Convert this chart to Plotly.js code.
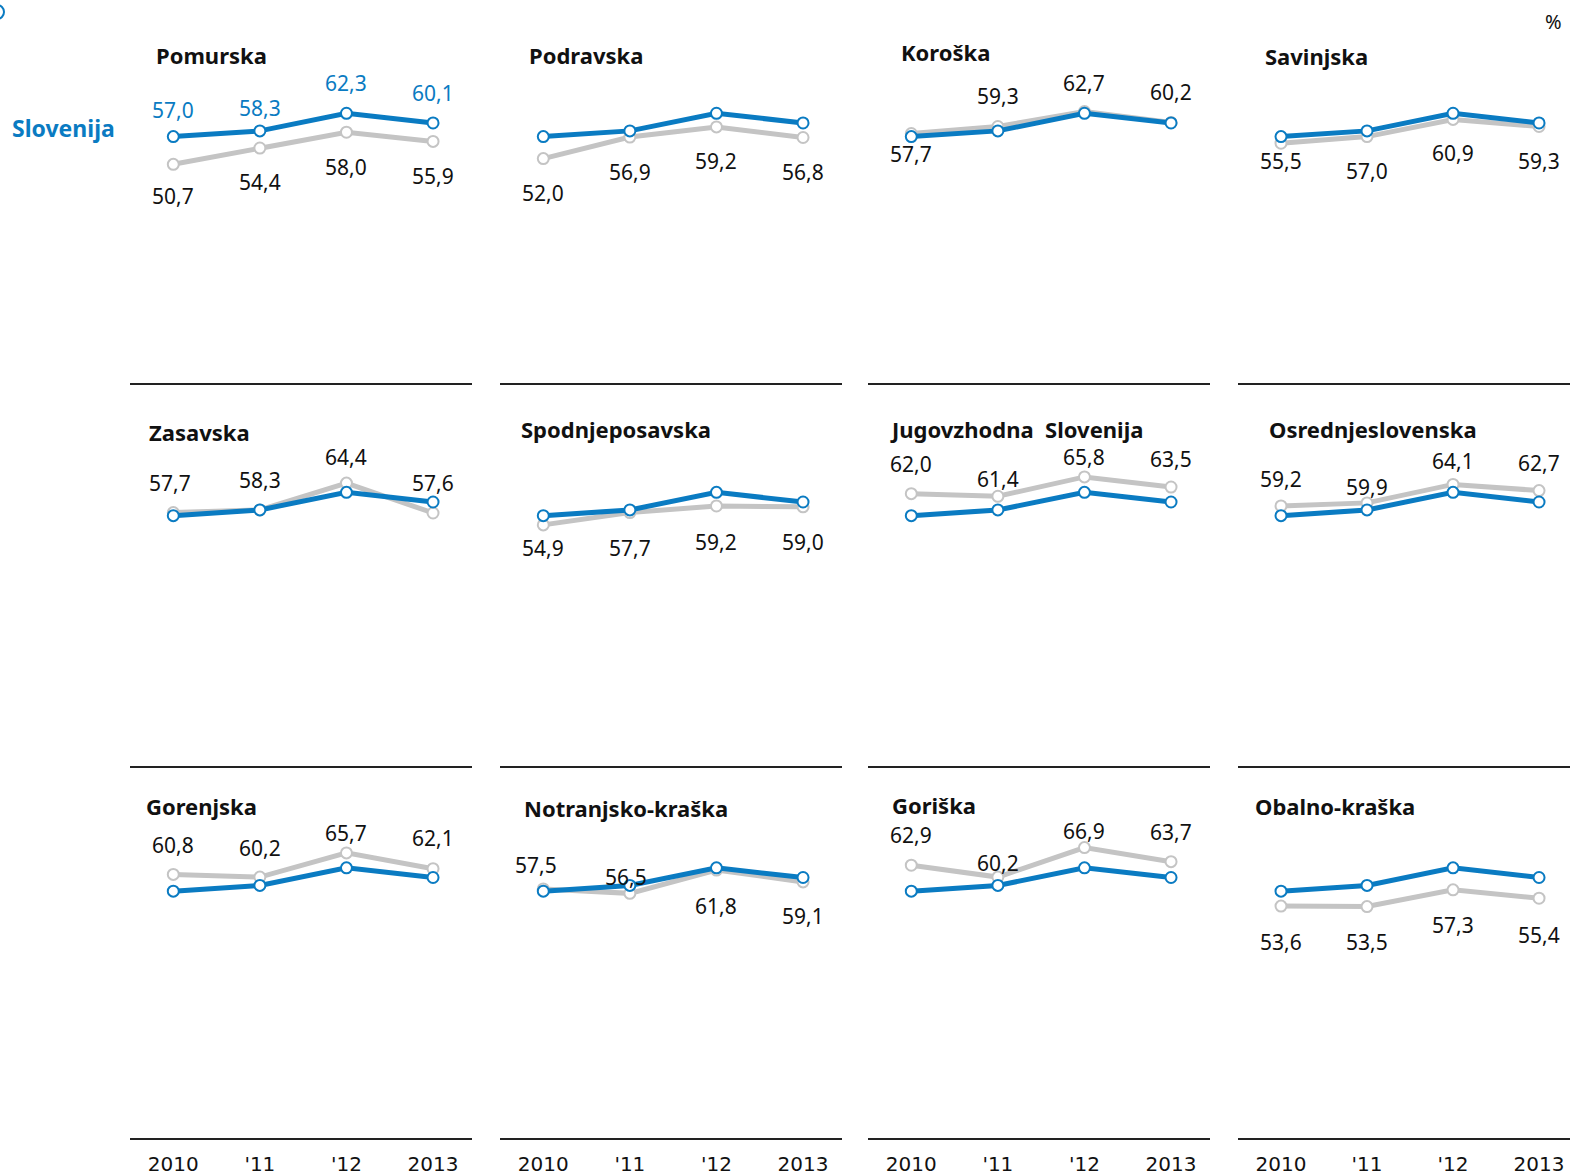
<!DOCTYPE html>
<html><head><meta charset="utf-8">
<script src="https://cdn.plot.ly/plotly-3.0.1.min.js"></script>
<style>html,body{margin:0;padding:0;background:#fff;overflow:hidden}#chart{width:1570px;height:1176px}</style>
</head><body><div id="chart"></div>
<script>
// ---------- DATA ----------
const years = ['2010', "'11", "'12", '2013'];
const slovenija = [57.0, 58.3, 62.3, 60.1];
const regionNames = ['Pomurska', 'Podravska', 'Koroška', 'Savinjska',
  'Zasavska', 'Spodnjeposavska', 'Jugovzhodna\u00a0 Slovenija', 'Osrednjeslovenska',
  'Gorenjska', 'Notranjsko-kraška', 'Goriška', 'Obalno-kraška'];
const pomurska = [50.7, 54.4, 58.0, 55.9];
const podravska = [52.0, 56.9, 59.2, 56.8];
const koroska = [57.7, 59.3, 62.7, 60.2];
const savinjska = [55.5, 57.0, 60.9, 59.3];
const zasavska = [57.7, 58.3, 64.4, 57.6];
const spodnjeposavska = [54.9, 57.7, 59.2, 59.0];
const jugovzhodna = [62.0, 61.4, 65.8, 63.5];
const osrednjeslovenska = [59.2, 59.9, 64.1, 62.7];
const gorenjska = [60.8, 60.2, 65.7, 62.1];
const notranjsko = [57.5, 56.5, 61.8, 59.1];
const goriska = [62.9, 60.2, 66.9, 63.7];
const obalno = [53.6, 53.5, 57.3, 55.4];
const regionValues = [pomurska, podravska, koroska, savinjska, zasavska, spodnjeposavska,
  jugovzhodna, osrednjeslovenska, gorenjska, notranjsko, goriska, obalno];

// ---------- LAYOUT / STYLE ----------
const W = 1570, H = 1176;
const px = x => x / W;
const py = y => 1 - y / H;
const BLUE = '#0a7bc2', GREY = '#c4c4c4';
const colPx = [[130, 472], [500, 842], [868, 1210], [1238, 1570]];
const colRange = [[-0.5, 3.45], [-0.5, 3.45], [-0.5, 3.45], [-0.5, 3.36]];
const rowBase = [383, 766, 1138];
const rowR0 = [1.0, 0.1, 0.9];
const K = 4.4, ROWH = 330;
// label vertical offsets in px (positive = below point)
const labelOff = [
  [32, 34, 35, 35], [34, 35, 34, 35], [20, -30, -29, -31], [18, 34, 34, 35],
  [-30, -30, -26, -30], [23, 35, 36, 35], [-30, -17, -20, -28], [-27, -16, -23, -28],
  [-29, -29, -20, -31], [-24, -16, 36, 34], [-30, -14, -17, -30], [36, 35, 35, 37]];
const labelXOff = [
  [0,0,0,0],[0,0,0,0],[0,0,0,0],[0,0,0,0],[-3,0,0,0],[0,0,0,0],
  [0,0,0,0],[0,0,0,0],[0,0,0,0],[-7,-4,0,0],[0,0,0,0],[0,0,0,0]];
const sloLabelOff = [-27, -23, -30, -30];
const titlePos = [[155, 55], [528, 55], [900, 52], [1264, 56], [148, 432], [520, 429],
  [889, 429], [1268, 429], [145, 806], [523, 808], [891, 805], [1254, 806]];

const fmt = v => v.toFixed(1).replace('.', ',');
const traces = [];
const layout = {
  width: W, height: H, margin: {l: 0, r: 0, t: 0, b: 0},
  paper_bgcolor: '#fff', plot_bgcolor: 'rgba(0,0,0,0)',
  showlegend: false, hovermode: false,
  font: {family: 'Noto Sans, sans-serif', color: '#111'},
  annotations: [], shapes: []
};
const xs = [0, 1, 2, 3];
regionValues.forEach((vals, i) => {
  const row = Math.floor(i / 4), col = i % 4, n = i + 1;
  const xa = 'x' + n, ya = 'y' + n;
  layout['xaxis' + n] = {
    domain: [px(colPx[col][0]), px(colPx[col][1])], anchor: ya,
    range: colRange[col], showgrid: false, zeroline: false,
    showline: true, linecolor: '#222', linewidth: 2, ticks: '',
    tickvals: xs, ticktext: years, showticklabels: row === 2, ticklabelstandoff: 7,
    tickfont: {family: 'DejaVu Sans', size: 20, color: '#111'}, fixedrange: true
  };
  const r0 = rowR0[row];
  layout['yaxis' + n] = {
    domain: [py(rowBase[row]), py(rowBase[row] - ROWH)], anchor: xa,
    range: [r0, r0 + ROWH / K], showgrid: false, zeroline: false,
    showline: false, showticklabels: false, ticks: '', fixedrange: true
  };
  traces.push({
    x: xs, y: vals, xaxis: xa, yaxis: ya, type: 'scatter', mode: 'lines+markers',
    line: {color: GREY, width: 5}, cliponaxis: false,
    marker: {size: 11, color: '#fff', line: {color: GREY, width: 2}}
  });
  traces.push({
    x: xs, y: slovenija, xaxis: xa, yaxis: ya, type: 'scatter', mode: 'lines+markers',
    line: {color: BLUE, width: 5}, cliponaxis: false,
    marker: {size: 11, color: '#fff', line: {color: BLUE, width: 2}}
  });
  vals.forEach((v, j) => {
    layout.annotations.push({
      xref: xa, yref: ya, x: j, y: v, text: fmt(v), showarrow: false, borderpad: 0,
      xanchor: 'center', yanchor: 'middle', yshift: -labelOff[i][j], xshift: labelXOff[i][j],
      font: {family: 'Noto Sans', size: 21, color: '#111'}
    });
  });
  if (i === 0) {
    slovenija.forEach((v, j) => {
      layout.annotations.push({
        xref: xa, yref: ya, x: j, y: v, text: fmt(v), showarrow: false, borderpad: 0,
        xanchor: 'center', yanchor: 'middle', yshift: -sloLabelOff[j],
        font: {family: 'Noto Sans', size: 21, color: BLUE}
      });
    });
  }
  layout.annotations.push({
    xref: 'paper', yref: 'paper', x: px(titlePos[i][0]), y: py(titlePos[i][1]), borderpad: 0,
    xanchor: 'left', yanchor: 'middle', showarrow: false, text: '<b>' + regionNames[i] + '</b>',
    font: {family: 'Noto Sans', size: 22, color: '#111'}
  });
});
layout.annotations.push({
  xref: 'paper', yref: 'paper', x: px(10), y: py(128), xanchor: 'left', yanchor: 'middle',
  showarrow: false, text: '<b>Slovenija</b>', font: {family: 'Noto Sans', size: 23, color: BLUE}
});
layout.annotations.push({
  xref: 'paper', yref: 'paper', x: px(1553), y: py(22), xanchor: 'center', yanchor: 'middle',
  showarrow: false, text: '%', font: {family: 'Noto Sans', size: 20, color: '#111'}
});
layout.shapes.push({
  type: 'circle', xref: 'paper', yref: 'paper',
  x0: px(-10), x1: px(4), y0: py(19), y1: py(5), line: {color: BLUE, width: 2}, fillcolor: 'rgba(0,0,0,0)'
});
Plotly.newPlot('chart', traces, layout, {displayModeBar: false, staticPlot: true});
</script></body></html>
